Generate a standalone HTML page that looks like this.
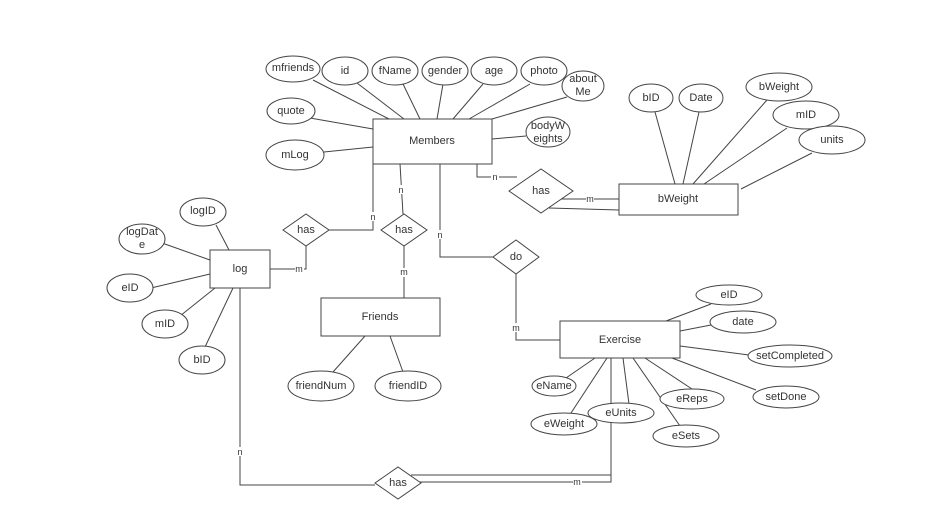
<!DOCTYPE html>
<html><head><meta charset="utf-8"><style>
html,body{margin:0;padding:0;background:#fff}
svg{display:block}
text{font-family:"Liberation Sans",sans-serif;font-size:11px;fill:#333;text-anchor:middle;dominant-baseline:central}
.s{stroke:#444;stroke-width:1;fill:none}
.e{stroke:#444;stroke-width:1;fill:#fff}
.c{font-size:9px}
</style></head><body>
<svg width="940" height="513" viewBox="0 0 940 513">
<!-- Members lines -->
<g class="s">
<line x1="313" y1="80" x2="389" y2="119"/><line x1="357" y1="83" x2="404" y2="119"/>
<line x1="403" y1="84" x2="420" y2="119"/><line x1="443" y1="84" x2="437" y2="119"/>
<line x1="483" y1="84" x2="453" y2="119"/><line x1="530" y1="84" x2="469" y2="119"/>
<line x1="567" y1="97" x2="492" y2="119"/><line x1="310" y1="118" x2="373" y2="129"/>
<line x1="324" y1="152" x2="373" y2="147"/><line x1="526" y1="136" x2="492" y2="139"/>
<polyline points="477,164 477,177 517,177"/>
<line x1="560" y1="199" x2="619" y2="199"/><line x1="549" y1="208" x2="619" y2="210"/>
<line x1="655" y1="112" x2="675" y2="184"/><line x1="699" y1="112" x2="683" y2="184"/>
<line x1="767" y1="100" x2="693" y2="184"/><line x1="787" y1="128" x2="704" y2="184"/>
<line x1="812" y1="153" x2="741" y2="189"/>
<polyline points="373,164 373,230 329,230"/>
<polyline points="306,246 306,269 270,269"/>
<line x1="400" y1="164" x2="403" y2="214"/><line x1="404" y1="246" x2="404" y2="298"/>
<polyline points="440,164 440,257 493,257"/>
<polyline points="516,274 516,340 560,340"/>
<line x1="365" y1="336" x2="333" y2="372"/><line x1="390" y1="336" x2="403" y2="372"/>
<line x1="229" y1="250" x2="216" y2="225"/><line x1="210" y1="260" x2="162" y2="243"/>
<line x1="210" y1="274" x2="151" y2="288"/><line x1="215" y1="288" x2="180" y2="316"/>
<line x1="233" y1="288" x2="205" y2="347"/>
<line x1="711" y1="304" x2="666" y2="321"/><line x1="711" y1="325" x2="680" y2="331"/>
<line x1="749" y1="355" x2="680" y2="346"/><line x1="756" y1="390" x2="672" y2="358"/>
<line x1="692" y1="389" x2="645" y2="358"/><line x1="680" y1="426" x2="633" y2="358"/>
<line x1="629" y1="404" x2="623" y2="358"/><line x1="571" y1="413" x2="607" y2="358"/>
<line x1="566" y1="378" x2="595" y2="358"/>
<polyline points="240,288 240,485 375,485"/>
<polyline points="411,475 611,475 611,358"/>
<polyline points="416,482 611,482 611,475"/>
</g>
<!-- relation labels -->
<g class="c">
<rect x="491" y="173" width="8" height="9" fill="#fff"/><text x="495" y="177" class="c">n</text>
<rect x="586" y="195" width="8" height="9" fill="#fff"/><text x="590" y="199" class="c">m</text>
<rect x="369" y="212" width="8" height="9" fill="#fff"/><text x="373" y="217" class="c">n</text>
<rect x="295" y="265" width="9" height="9" fill="#fff"/><text x="299" y="269" class="c">m</text>
<rect x="397" y="185" width="8" height="9" fill="#fff"/><text x="401" y="190" class="c">n</text>
<rect x="400" y="268" width="9" height="9" fill="#fff"/><text x="404" y="272" class="c">m</text>
<rect x="436" y="230" width="8" height="9" fill="#fff"/><text x="440" y="235" class="c">n</text>
<rect x="512" y="323" width="9" height="9" fill="#fff"/><text x="516" y="328" class="c">m</text>
<rect x="236" y="447" width="8" height="9" fill="#fff"/><text x="240" y="452" class="c">n</text>
<rect x="573" y="478" width="9" height="9" fill="#fff"/><text x="577" y="482" class="c">m</text>
</g>
<!-- entities -->
<g class="e">
<rect x="373" y="119" width="119" height="45"/>
<rect x="619" y="184" width="119" height="31"/>
<rect x="210" y="250" width="60" height="38"/>
<rect x="321" y="298" width="119" height="38"/>
<rect x="560" y="321" width="120" height="37"/>
<polygon points="509,191 541,169 573,191 541,213"/>
<polygon points="283,230 306,214 329,230 306,246"/>
<polygon points="381,230 404,214 427,230 404,246"/>
<polygon points="493,257 516,240 539,257 516,274"/>
<polygon points="375,483 398,467 421,483 398,499"/>
</g>
<text x="432" y="141">Members</text>
<text x="678" y="199">bWeight</text>
<text x="240" y="269">log</text>
<text x="380" y="317">Friends</text>
<text x="620" y="340">Exercise</text>
<text x="541" y="191">has</text>
<text x="306" y="230">has</text>
<text x="404" y="230">has</text>
<text x="516" y="257">do</text>
<text x="398" y="483">has</text>
<!-- attributes -->
<g class="e">
<ellipse cx="293" cy="69" rx="27" ry="13"/><ellipse cx="345" cy="71" rx="23" ry="14"/>
<ellipse cx="395" cy="71" rx="23" ry="14"/><ellipse cx="445" cy="71" rx="23" ry="14"/>
<ellipse cx="494" cy="71" rx="23" ry="14"/><ellipse cx="544" cy="71" rx="23" ry="14"/>
<ellipse cx="583" cy="86" rx="21" ry="15"/><ellipse cx="291" cy="111" rx="24" ry="13"/>
<ellipse cx="295" cy="155" rx="29" ry="15"/><ellipse cx="548" cy="132" rx="22" ry="15"/>
<ellipse cx="651" cy="98" rx="22" ry="14"/><ellipse cx="701" cy="98" rx="22" ry="14"/>
<ellipse cx="779" cy="87" rx="33" ry="14"/><ellipse cx="806" cy="115" rx="33" ry="14"/>
<ellipse cx="832" cy="140" rx="33" ry="14"/>
<ellipse cx="203" cy="212" rx="23" ry="14"/><ellipse cx="142" cy="239" rx="23" ry="15"/>
<ellipse cx="130" cy="288" rx="23" ry="14"/><ellipse cx="165" cy="324" rx="23" ry="14"/>
<ellipse cx="202" cy="360" rx="23" ry="14"/>
<ellipse cx="321" cy="386" rx="33" ry="15"/><ellipse cx="408" cy="386" rx="33" ry="15"/>
<ellipse cx="729" cy="295" rx="33" ry="10"/><ellipse cx="743" cy="322" rx="33" ry="11"/>
<ellipse cx="790" cy="356" rx="42" ry="11"/><ellipse cx="786" cy="397" rx="33" ry="11"/>
<ellipse cx="692" cy="399" rx="32" ry="10"/><ellipse cx="686" cy="436" rx="33" ry="11"/>
<ellipse cx="621" cy="413" rx="33" ry="10"/><ellipse cx="564" cy="424" rx="33" ry="11"/>
<ellipse cx="554" cy="386" rx="22" ry="10"/>
</g>
<text x="293" y="68">mfriends</text><text x="345" y="71">id</text><text x="395" y="71">fName</text>
<text x="445" y="71">gender</text><text x="494" y="71">age</text><text x="544" y="71">photo</text>
<text x="583" y="79">about</text><text x="583" y="92">Me</text>
<text x="291" y="111">quote</text><text x="295" y="155">mLog</text>
<text x="548" y="126">bodyW</text><text x="548" y="139">eights</text>
<text x="651" y="98">bID</text><text x="701" y="98">Date</text><text x="779" y="87">bWeight</text>
<text x="806" y="115">mID</text><text x="832" y="140">units</text>
<text x="203" y="211">logID</text><text x="142" y="232">logDat</text><text x="142" y="245">e</text>
<text x="130" y="288">eID</text><text x="165" y="324">mID</text><text x="202" y="360">bID</text>
<text x="321" y="386">friendNum</text><text x="408" y="386">friendID</text>
<text x="729" y="295">eID</text><text x="743" y="322">date</text><text x="790" y="356">setCompleted</text>
<text x="786" y="397">setDone</text><text x="692" y="399">eReps</text><text x="686" y="436">eSets</text>
<text x="621" y="413">eUnits</text><text x="564" y="424">eWeight</text><text x="554" y="386">eName</text>
</svg>
</body></html>
